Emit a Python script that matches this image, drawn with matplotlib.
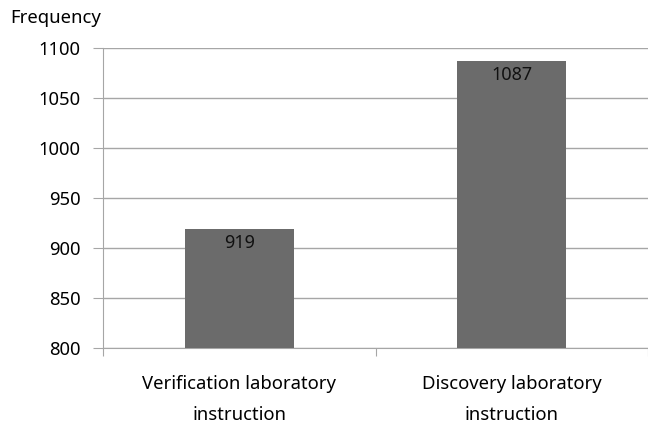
import matplotlib
matplotlib.use("Agg")
import matplotlib.pyplot as plt
from matplotlib.ticker import FixedLocator, NullFormatter

# --- データ ---
categories = ["Verification laboratory\ninstruction", "Discovery laboratory\ninstruction"]
frequency = [919, 1087]
y_ticks = [800, 850, 900, 950, 1000, 1050, 1100]

plt.rcParams["font.family"] = ["Noto Sans", "DejaVu Sans"]

fig = plt.figure(figsize=(6.48, 4.23), dpi=100)
ax = fig.add_axes([0.159, 0.177, 0.841, 0.709])

grid_c = "#a6a6a6"
x = list(range(len(categories)))
bars = ax.bar(x, frequency, width=0.4, color="#6b6b6b", zorder=3)

for xi, v in zip(x, frequency):
    ax.text(xi, v - 5, str(v), ha="center", va="top", fontsize=13, color="#111111", zorder=4)

ax.set_ylim(800, 1100)
ax.set_xlim(-0.5, 1.5)
ax.set_yticks(y_ticks)
ax.yaxis.grid(True, color=grid_c, linewidth=1.0, zorder=0)

# 区切り目盛り（カテゴリ間）
ax.xaxis.set_major_locator(FixedLocator([-0.5, 0.5, 1.5]))
ax.xaxis.set_major_formatter(NullFormatter())
ax.xaxis.set_minor_locator(FixedLocator(x))
ax.set_xticklabels(categories, minor=True)
ax.tick_params(axis="x", which="major", length=6, color=grid_c, direction="out")
ax.tick_params(axis="x", which="minor", length=0, pad=19, labelsize=13.3)
ax.tick_params(axis="y", length=7, color=grid_c, pad=9, labelsize=13.3)
for lab in ax.get_xticklabels(minor=True):
    lab.set_linespacing(1.95)

for s in ["top", "right"]:
    ax.spines[s].set_visible(False)
ax.spines["left"].set_color(grid_c)
ax.spines["bottom"].set_color(grid_c)

fig.text(10 / 648, 1 - 18 / 423, "Frequency", ha="left", va="center", fontsize=13.3)

fig.savefig("out.png", dpi=100)
